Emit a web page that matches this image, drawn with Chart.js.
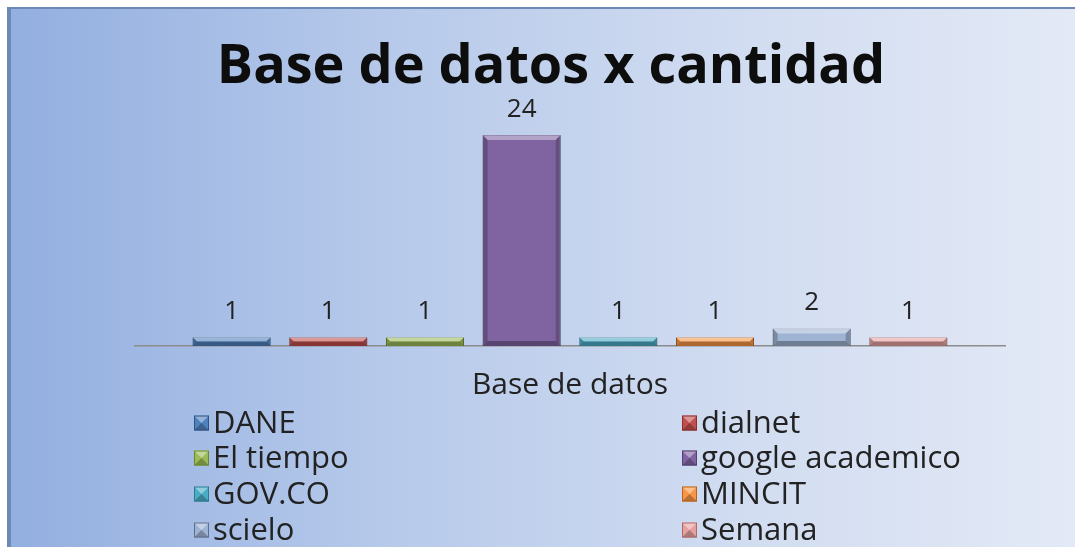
<!DOCTYPE html>
<html>
<head>
<meta charset="utf-8">
<script src="https://cdn.jsdelivr.net/npm/chart.js@4"></script>
<style>
  html, body { margin: 0; padding: 0; background: #fff; }
  #frame {
    position: absolute; left: 7px; top: 7px; right: 0; bottom: 0;
    border-left: 4px solid #6d89b5; border-top: 2px solid #6d89b5;
    background: linear-gradient(to right, #93afe0 0%, #b6c9ea 35%, #d2ddf1 70%, #e3e9f6 100%);
  }
  #chart { position: absolute; left: 0; top: 0; }
</style>
</head>
<body>
<div id="frame"></div>
<canvas id="chart" width="1075" height="547"></canvas>
<script>
// data
const sources = ['DANE', 'dialnet', 'El tiempo', 'google academico', 'GOV.CO', 'MINCIT', 'scielo', 'Semana'];
const counts = [1, 1, 1, 24, 1, 1, 2, 1];
const fills = ['#4f81bd', '#c0504d', '#9bbb59', '#8064a2', '#4bacc6', '#f79646', '#9fb3d3', '#e6a0a0'];
const edges = ['#2f5483', '#8c2f2c', '#6a8a2c', '#543f73', '#2a7a90', '#b8621d', '#5d6f8c', '#b06868'];
const axisTitle = 'Base de datos';
const chartTitle = 'Base de datos x cantidad';

const FONT = '"Open Sans", Lato, sans-serif';

// bevel look of the Excel bars
const bevelPlugin = {
    id: 'bevel',
    afterDatasetsDraw(chart) {
        const ctx = chart.ctx;
        chart.data.datasets.forEach((ds, i) => {
            chart.getDatasetMeta(i).data.forEach(bar => {
                const { x, y, base, width } = bar.getProps(['x', 'y', 'base', 'width'], true);
                const l = x - width / 2, r = x + width / 2;
                const b = Math.min(5, (base - y) / 2);
                ctx.save();
                ctx.fillStyle = 'rgba(255,255,255,0.4)';
                ctx.beginPath();
                ctx.moveTo(l, y); ctx.lineTo(r, y); ctx.lineTo(r - b, y + b); ctx.lineTo(l + b, y + b);
                ctx.fill();
                ctx.fillStyle = 'rgba(0,0,0,0.22)';
                ctx.beginPath();
                ctx.moveTo(l, y); ctx.lineTo(l + b, y + b); ctx.lineTo(l + b, base - b); ctx.lineTo(l, base);
                ctx.moveTo(r, y); ctx.lineTo(r - b, y + b); ctx.lineTo(r - b, base - b); ctx.lineTo(r, base);
                ctx.fill();
                ctx.fillStyle = 'rgba(0,0,0,0.3)';
                ctx.beginPath();
                ctx.moveTo(l, base); ctx.lineTo(l + b, base - b); ctx.lineTo(r - b, base - b); ctx.lineTo(r, base);
                ctx.fill();
                ctx.restore();
            });
        });
    }
};

// value labels above bars
const valueLabels = {
    id: 'valueLabels',
    afterDatasetsDraw(chart) {
        const ctx = chart.ctx;
        ctx.save();
        ctx.font = '26px ' + FONT;
        ctx.fillStyle = '#222';
        ctx.textAlign = 'center';
        ctx.textBaseline = 'alphabetic';
        chart.data.datasets.forEach((ds, i) => {
            chart.getDatasetMeta(i).data.forEach((bar, j) => {
                ctx.fillText(String(ds.data[j]), bar.x, bar.y - 18);
            });
        });
        ctx.restore();
    }
};

// two-column legend under the axis title
const columnLegend = {
    id: 'columnLegend',
    afterDraw(chart) {
        const ctx = chart.ctx;
        const colX = [194, 682];
        const rowY = [423, 458, 494, 530];
        ctx.save();
        ctx.font = '31px ' + FONT;
        ctx.textBaseline = 'middle';
        ctx.textAlign = 'left';
        chart.data.datasets.forEach((ds, i) => {
            const x = colX[i % 2], y = rowY[Math.floor(i / 2)];
            const s = 15;
            ctx.fillStyle = ds.backgroundColor;
            ctx.fillRect(x, y - s / 2, s, s);
            ctx.fillStyle = 'rgba(255,255,255,0.4)';
            ctx.beginPath();
            ctx.moveTo(x, y - s / 2); ctx.lineTo(x + s, y - s / 2); ctx.lineTo(x + s / 2, y);
            ctx.fill();
            ctx.fillStyle = 'rgba(0,0,0,0.25)';
            ctx.beginPath();
            ctx.moveTo(x, y + s / 2); ctx.lineTo(x + s, y + s / 2); ctx.lineTo(x + s / 2, y);
            ctx.fill();
            ctx.strokeStyle = ds.borderColor;
            ctx.lineWidth = 1;
            ctx.strokeRect(x + 0.5, y - s / 2 + 0.5, s - 1, s - 1);
            ctx.fillStyle = '#222';
            ctx.fillText(ds.label, x + s + 4, y + 1);
        });
        ctx.restore();
    }
};

new Chart(document.getElementById('chart'), {
    type: 'bar',
    data: {
        labels: [axisTitle],
        datasets: sources.map((name, i) => ({
            label: name,
            data: [counts[i]],
            backgroundColor: fills[i],
            borderColor: edges[i],
            borderWidth: 1,
            categoryPercentage: 0.889,
            barPercentage: 0.807
        }))
    },
    options: {
        responsive: false,
        animation: false,
        layout: { padding: { left: 97, right: 70, top: 0, bottom: 144 } },
        plugins: {
            legend: { display: false },
            tooltip: { enabled: false },
            title: {
                display: true,
                text: chartTitle,
                color: '#0d0d0d',
                font: { family: FONT, size: 54, weight: 'bold', lineHeight: 1.2 },
                padding: { top: 35, bottom: 0 }
            }
        },
        scales: {
            x: {
                ticks: { display: false },
                grid: { display: false, drawTicks: false },
                border: { display: true, color: '#8c8c8c', width: 1.5 },
                title: {
                    display: true,
                    text: axisTitle,
                    color: '#222',
                    font: { family: FONT, size: 30, lineHeight: 1.2 },
                    padding: { top: 21, bottom: 0 }
                }
            },
            y: {
                // hidden axis, kept only as a 38px spacer on the left
                min: 0,
                max: 28,
                ticks: { display: false },
                grid: { display: false, drawTicks: false },
                border: { display: false },
                afterFit(scale) { scale.width = 38; }
            }
        }
    },
    plugins: [bevelPlugin, valueLabels, columnLegend]
});
</script>
</body>
</html>
